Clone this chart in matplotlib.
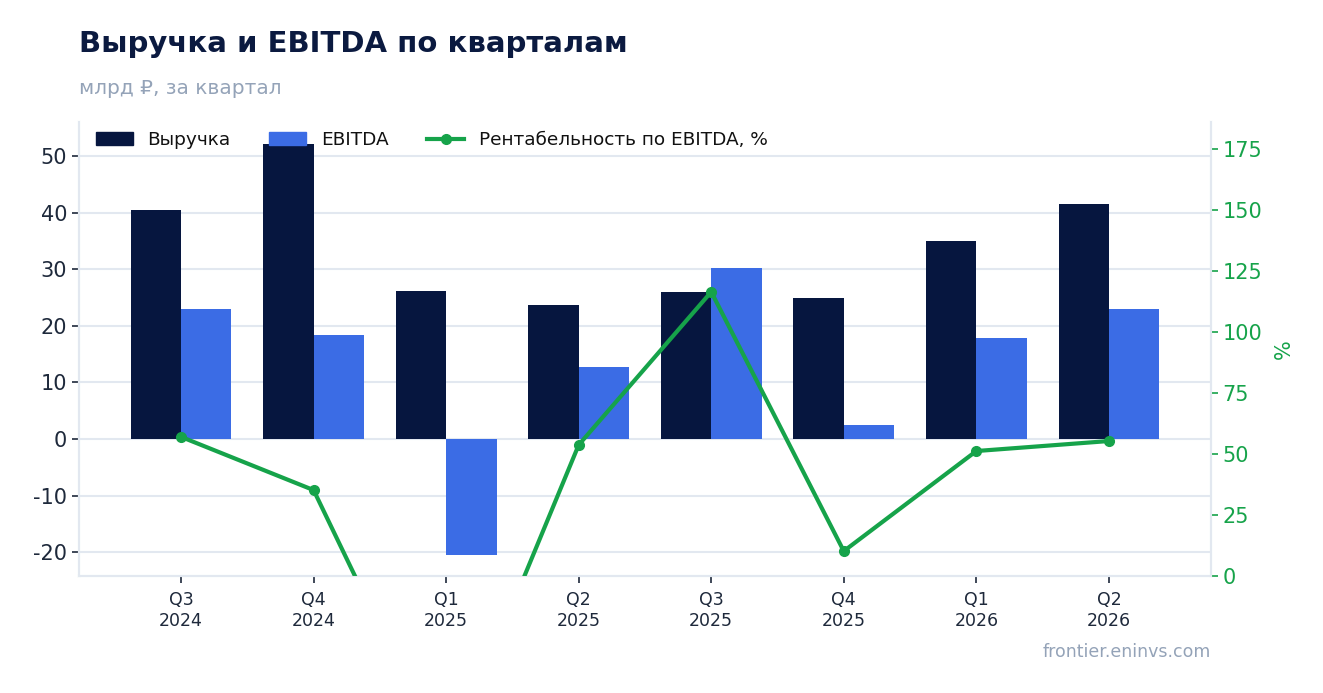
import matplotlib
matplotlib.use("Agg")
import matplotlib.pyplot as plt
import numpy as np
from matplotlib.patches import Patch
from matplotlib.lines import Line2D

# данные
кварталы = ["Q3\n2024", "Q4\n2024", "Q1\n2025", "Q2\n2025",
            "Q3\n2025", "Q4\n2025", "Q1\n2026", "Q2\n2026"]
выручка = [40.5, 52.1, 26.1, 23.7, 26.0, 24.9, 35.0, 41.5]
ebitda = [23.0, 18.4, -20.5, 12.7, 30.2, 2.5, 17.8, 23.0]
рентабельность = [57.0, 35.2, -77.5, 53.7, 116.4, 10.2, 51.2, 55.3]

c_rev = "#06163f"
c_ebitda = "#3b6ce5"
c_green = "#16a34a"
c_grid = "#e2e8f0"
c_muted = "#94a3b8"
c_text = "#1e293b"
c_title = "#0b1a40"

plt.rcParams['font.family'] = ['DejaVu Sans']

fig = plt.figure(figsize=(13.23, 6.93), dpi=100)
ax = fig.add_axes([0.0597, 0.1688, 0.8556, 0.6552])
ax2 = ax.twinx()

x = np.arange(len(кварталы))
w = 0.38
ax.bar(x - w / 2, выручка, w, color=c_rev, zorder=2)
ax.bar(x + w / 2, ebitda, w, color=c_ebitda, zorder=2)

ax2.plot(x, рентабельность, color=c_green, lw=3, marker='o', ms=7, zorder=3)

ax.set_xlim(-0.77, 7.77)
ax.set_ylim(-24.2, 56)
ax2.set_ylim(0, 186)

ax.set_yticks([-20, -10, 0, 10, 20, 30, 40, 50])
ax.set_yticklabels(["-20", "-10", "0", "10", "20", "30", "40", "50"])
ax2.set_yticks([0, 25, 50, 75, 100, 125, 150, 175])
ax.set_xticks(x)
ax.set_xticklabels(кварталы, fontsize=12.5, color=c_text)

ax.grid(axis='y', color=c_grid, lw=1.5, zorder=0)
ax.set_axisbelow(True)

for a in (ax, ax2):
    a.spines['top'].set_visible(False)
    for s in ('left', 'bottom', 'right'):
        a.spines[s].set_color(c_grid)
        a.spines[s].set_linewidth(1.5)

ax.tick_params(axis='y', labelsize=15, colors=c_text, length=5, width=1.2)
ax.tick_params(axis='x', colors=c_text, length=5, width=1.2, pad=6)
ax2.tick_params(axis='y', labelsize=15, colors=c_green, length=5, width=1.2)
ax2.set_ylabel("%", color=c_green, fontsize=15, labelpad=8)

handles = [Patch(color=c_rev), Patch(color=c_ebitda),
           Line2D([0], [0], color=c_green, lw=3, marker='o', ms=7)]
labels = ["Выручка", "EBITDA", "Рентабельность по EBITDA, %"]
ax2.legend(handles, labels, loc='upper left', bbox_to_anchor=(0.0, 1.016), ncol=3,
           frameon=False, fontsize=13.3, handlelength=2.0, columnspacing=2.1,
           labelcolor='#111111')

fig.text(0.0597, 0.9365, "Выручка и EBITDA по кварталам", fontsize=21,
         fontweight='bold', color=c_title, va='center', ha='left')
fig.text(0.0597, 0.873, "млрд ₽, за квартал", fontsize=14.5, color=c_muted,
         va='center', ha='left')
fig.text(0.915, 0.059, "frontier.eninvs.com", fontsize=12.5, color=c_muted,
         va='center', ha='right')

fig.savefig("out.png", dpi=100, facecolor='white')
